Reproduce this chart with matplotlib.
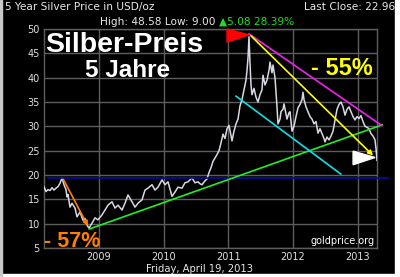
import matplotlib
matplotlib.use("Agg")
import matplotlib.pyplot as plt
from matplotlib.patches import Polygon, Rectangle
import numpy as np

# ---- data (decimal year, USD/oz) ----
px_x = [44, 46, 48, 50, 52, 54, 56, 58, 60, 62, 64, 66, 67, 68, 70, 72, 75, 77, 80, 83, 85, 87, 89,
        92, 95, 98, 102, 105, 108, 112, 115, 118, 122, 125, 128, 132, 135, 138, 142, 145, 148, 152,
        155, 158, 162, 165, 168, 172, 175, 178, 182, 185, 188, 192, 195, 198, 200, 202, 205, 207,
        209, 211, 213, 215, 217, 219, 221, 223, 225, 227, 229, 231, 232, 234, 236, 238, 240, 242,
        244, 246, 247, 248, 249, 250, 251, 252, 254, 256, 258, 260, 262, 263, 265, 267, 269, 270,
        272, 273, 275, 276, 277, 278, 280, 281, 283, 284, 286, 287, 289, 290, 292, 294, 296, 298,
        300, 302, 303, 304, 306, 308, 310, 312, 314, 316, 318, 320, 322, 324, 325, 327, 329, 331,
        333, 335, 337, 339, 341, 343, 345, 347, 349, 351, 353, 355, 357, 359, 361, 363, 365, 367,
        369, 371, 373, 375, 376, 377]
prices = [17.6, 16.6, 17.0, 16.8, 17.4, 16.9, 17.3, 17.6, 18.3, 19.4, 18.0, 17.0, 15.5, 16.0, 13.4,
          14.2, 13.2, 11.4, 12.4, 10.7, 11.1, 9.7, 9.1,
          10.1, 11.2, 10.8, 11.8, 12.8, 13.8, 14.5, 13.2, 13.8, 12.8, 14.2, 15.9, 14.5, 13.4, 14.2,
          14.9, 16.9, 17.3, 18.0, 16.9, 17.5, 19.0, 18.0, 18.6, 15.6, 16.5, 17.5, 17.3, 18.4, 18.6,
          19.4, 18.4, 18.6, 18.2, 18.0, 18.8, 19.2, 20.5, 21.5, 22.8, 23.5, 24.2, 25.0, 26.6, 28.4,
          27.5, 29.5, 30.2, 28.0, 27.0, 29.0, 30.5, 31.5, 34.2, 35.5, 37.5, 39.5, 41.5, 44.0, 48.4,
          43.0, 38.5, 36.5, 37.8, 36.0, 35.0, 36.5, 37.5, 40.5, 38.5, 39.5, 41.5, 43.2, 41.0, 42.6,
          40.0, 37.0, 34.0, 30.5, 31.5, 33.0, 33.5, 34.6, 32.5, 31.5, 32.8, 33.0, 29.0, 30.0, 32.0,
          33.8, 34.5, 35.5, 37.0, 35.5, 34.0, 33.0, 32.0, 31.5, 30.5, 31.0, 28.6, 29.5, 28.5, 27.5,
          26.8, 27.8, 27.2, 28.0, 29.0, 31.3, 33.5, 34.5, 35.0, 34.0, 32.3, 33.5, 34.0, 33.0, 32.0,
          31.3, 32.0, 31.6, 32.2, 31.0, 30.0, 29.8, 29.5, 28.5, 28.0, 27.2, 25.5, 23.0]
X0, PPY = 2008.15, 64.66
dates = [X0 + (p - 44) / PPY for p in px_x]

y_ticks = [5, 10, 15, 20, 25, 30, 35, 40, 45, 50]
x_ticks = [2009, 2010, 2011, 2012, 2013]
x_labels = ["2009", "2010", "2011", "2012", "2013"]

# annotation lines (year, price)
blue_line = ([2008.21, 2013.47], [19.4, 19.4])
orange_arrow = ([2008.43, 2008.85], [19.6, 9.0])
green_line = ([2008.85, 2013.38], [8.9, 30.3])
cyan_line = ([2011.12, 2012.74], [36.2, 20.2])
magenta_line = ([2011.32, 2013.38], [49.0, 30.1])
yellow_arrow = ([2011.32, 2013.27], [49.0, 23.6])
red_flag = ([2010.98, 2010.98, 2011.32], [50.0, 47.3, 48.8])
white_flag = ([2012.93, 2012.93, 2013.27], [24.9, 22.1, 23.6])

W, H = 400, 277
fig = plt.figure(figsize=(4.0, 2.77), dpi=100)
fig.patch.set_facecolor("#000000")

# border strips
fig.add_artist(Rectangle((0, 0), 1, 3 / H, transform=fig.transFigure, color="#ffffff", zorder=0))
fig.add_artist(Rectangle((395 / W, 0), 5 / W, 1, transform=fig.transFigure, color="#ffffff", zorder=0))
fig.add_artist(Rectangle((0, 0), 2 / W, 1, transform=fig.transFigure, color="#c8c8c8", zorder=0))

ax = fig.add_axes([44 / W, 1 - 248 / H, (377 - 44) / W, (248 - 29) / H])
ax.set_facecolor("#000000")
ax.set_xlim(X0, X0 + (377 - 44) / PPY)
ax.set_ylim(5, 50)
ax.set_yticks(y_ticks)
ax.set_xticks(x_ticks)
ax.set_xticklabels(x_labels)
ax.tick_params(colors="#e0e0e0", labelsize=7, length=0, pad=3)
ax.grid(True, color="#5e5e5e", lw=1.0)
for s in ax.spines.values():
    s.set_color("#5e5e5e")
    s.set_linewidth(1.0)

ax.plot(dates, prices, color="#d8d8e2", lw=1.1, zorder=3)

kw = dict(lw=1.2, zorder=4, clip_on=False)
ax.plot(*blue_line, color="#0a0aa8", **kw)
ax.plot(*green_line, color="#22ee22", **kw)
ax.plot(*cyan_line, color="#10e0e8", **kw)
ax.plot(*magenta_line, color="#f020f0", **kw)
ax.annotate("", xy=(orange_arrow[0][1], orange_arrow[1][1]), xytext=(orange_arrow[0][0], orange_arrow[1][0]),
            arrowprops=dict(arrowstyle="-|>", color="#ff8000", lw=1.2, mutation_scale=7), zorder=4)
ax.annotate("", xy=(yellow_arrow[0][1], yellow_arrow[1][1]), xytext=(yellow_arrow[0][0], yellow_arrow[1][0]),
            arrowprops=dict(arrowstyle="-|>", color="#ffff00", lw=1.2, mutation_scale=7), zorder=4)
ax.add_patch(Polygon(np.column_stack(red_flag), closed=True, color="#ff0000", zorder=5, clip_on=False))
ax.add_patch(Polygon(np.column_stack(white_flag), closed=True, color="#ffffff", zorder=5, clip_on=False))

def fx(px):
    return px / W

def fy(py):
    return 1 - py / H

bold = dict(family="Liberation Sans", weight="bold")
fig.text(fx(45), fy(52), "Silber-Preis", color="white", fontsize=20.5, ha="left", va="baseline", **bold)
fig.text(fx(127.5), fy(77), "5 Jahre", color="white", fontsize=17.5, ha="center", va="baseline", **bold)
fig.text(fx(311), fy(75), "- 55%", color="#ffff00", fontsize=17, ha="left", va="baseline", **bold)
fig.text(fx(44), fy(247), "- 57%", color="#ff8000", fontsize=15.5, ha="left", va="baseline", **bold)
fig.text(fx(375), fy(244), "goldprice.org", color="white", fontsize=7, ha="right", va="baseline",
         family="DejaVu Sans")

hdr = dict(family="DejaVu Sans", fontsize=7.6, va="baseline")
fig.text(fx(5), fy(10), "5 Year Silver Price in USD/oz", color="#e8e8e8", ha="left", **hdr)
fig.text(fx(395), fy(10), "Last Close: 22.96", color="#e8e8e8", ha="right", **hdr)
fig.text(fx(219), fy(25), "High: 48.58 Low: 9.00 ", color="#e8e8e8", ha="right", **hdr)
fig.text(fx(219), fy(25), "\u25b25.08 28.39%", color="#22dd22", ha="left", **hdr)
fig.text(fx(200), fy(269), "Friday, April 19, 2013", color="#e8e8e8", ha="center", va="center",
         family="DejaVu Sans", fontsize=7.2)

fig.savefig("out.png", dpi=100, facecolor=fig.get_facecolor())
